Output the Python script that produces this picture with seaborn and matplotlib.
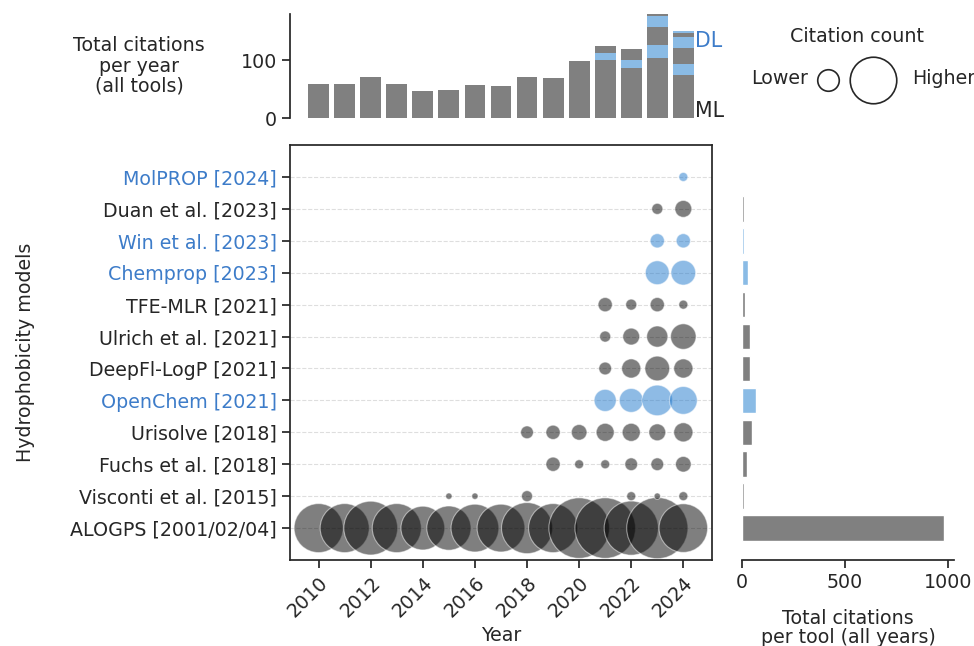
import numpy as np
import pandas as pd
import seaborn as sns
import matplotlib.pyplot as plt
from matplotlib.lines import Line2D

# --- Data ---
YEARS = list(range(2010, 2025))

TOOLS = ['ALOGPS [2001/02/04]', 'Visconti et al. [2015]', 'Fuchs et al. [2018]',
         'Urisolve [2018]', 'OpenChem [2021]', 'DeepFl-LogP [2021]',
         'Ulrich et al. [2021]', 'TFE-MLR [2021]', 'Chemprop [2023]',
         'Win et al. [2023]', 'Duan et al. [2023]', 'MolPROP [2024]']
TOOL_TYPE = ['ML', 'ML', 'ML', 'ML', 'DL', 'ML', 'ML', 'ML', 'DL', 'DL', 'ML', 'DL']

# citations per year, 2010 ... 2024
alogps   = [59, 59, 71, 59, 47, 48, 56, 56, 64, 59, 90, 90, 72, 92, 58]
visconti = [0, 0, 0, 0, 0, 1, 1, 0, 3, 0, 0, 0, 2, 1, 2]
fuchs    = [0, 0, 0, 0, 0, 0, 0, 0, 0, 5, 2, 2, 4, 4, 6]
urisolve = [0, 0, 0, 0, 0, 0, 0, 0, 4, 5, 6, 8, 8, 7, 9]
openchem = [0, 0, 0, 0, 0, 0, 0, 0, 0, 0, 0, 12, 14, 23, 19]
deepfl   = [0, 0, 0, 0, 0, 0, 0, 0, 0, 0, 0, 4, 9, 15, 9]
ulrich   = [0, 0, 0, 0, 0, 0, 0, 0, 0, 0, 0, 3, 7, 11, 16]
tfe_mlr  = [0, 0, 0, 0, 0, 0, 0, 0, 0, 0, 0, 5, 3, 5, 2]
chemprop = [0, 0, 0, 0, 0, 0, 0, 0, 0, 0, 0, 0, 0, 14, 15]
win      = [0, 0, 0, 0, 0, 0, 0, 0, 0, 0, 0, 0, 0, 5, 5]
duan     = [0, 0, 0, 0, 0, 0, 0, 0, 0, 0, 0, 0, 0, 3, 7]
molprop  = [0, 0, 0, 0, 0, 0, 0, 0, 0, 0, 0, 0, 0, 0, 2]

COUNTS = [alogps, visconti, fuchs, urisolve, openchem, deepfl,
          ulrich, tfe_mlr, chemprop, win, duan, molprop]

ML_COLOR = 'gray'
DL_BAR = '#8abbe5'
DL_DOT = '#1f78cc'
DL_TEXT = '#3d7cc9'
FS = 13.7

# long table for the bubble plot
rows = []
for i, (tool, kind, counts) in enumerate(zip(TOOLS, TOOL_TYPE, COUNTS)):
    for year, c in zip(YEARS, counts):
        if c > 0:
            rows.append({'tool': tool, 'pos': i, 'type': kind, 'Year': year, 'count': c})
df = pd.DataFrame(rows)

sns.set_theme(style='ticks')
plt.rcParams.update({'font.size': FS, 'axes.labelsize': FS,
                     'xtick.labelsize': FS, 'ytick.labelsize': FS})

fig = plt.figure(figsize=(9.74, 6.46), dpi=100)
ax = fig.add_axes([0.2977, 0.1331, 0.4333, 0.6424])
ax_top = fig.add_axes([0.2977, 0.8173, 0.4333, 0.161], sharex=ax)
ax_right = fig.add_axes([0.7618, 0.1331, 0.2177, 0.6424], sharey=ax)

# --- bubble plot ---
ax.yaxis.grid(True, ls='--', color='0.87', lw=0.8)
ax.set_axisbelow(True)
sns.scatterplot(data=df, x='Year', y='pos', size='count', hue='type',
                palette={'ML': 'black', 'DL': DL_DOT}, sizes=(0, 2110),
                size_norm=(0, 100), alpha=0.5, edgecolor='white', linewidth=0.8,
                legend=False, ax=ax, zorder=2)
ax.set_xlim(2008.9, 2025.1)
ax.set_ylim(-1, 12)
ax.set_xticks(list(range(2010, 2025, 2)))
ax.set_yticks(range(len(TOOLS)))
ax.set_yticklabels(TOOLS)
for lbl, kind in zip(ax.get_yticklabels(), TOOL_TYPE):
    lbl.set_color(DL_TEXT if kind == 'DL' else '.15')
plt.setp(ax.get_xticklabels(), rotation=45, ha='right', rotation_mode='anchor')
ax.set_xlabel('Year')
ax.set_ylabel('Hydrophobicity models')
ax.yaxis.set_label_coords(-0.605, 0.5)

# --- stacked citations per year ---
bottom = np.zeros(len(YEARS))
for kind, counts in zip(TOOL_TYPE, COUNTS):
    counts = np.array(counts)
    ax_top.bar(YEARS, counts, bottom=bottom, width=0.8,
               color=DL_BAR if kind == 'DL' else ML_COLOR, linewidth=0)
    bottom += counts
ax_top.set_ylim(0, bottom.max())
ax_top.set_yticks([0, 100])
ax_top.tick_params(bottom=False, labelbottom=False)
sns.despine(ax=ax_top, bottom=True)
ax_top.text(2024.45, 134, 'DL', color=DL_TEXT, fontsize=14.8, va='center', ha='left')
ax_top.text(2024.45, 12, 'ML', color='.15', fontsize=14.8, va='center', ha='left')
fig.text(139 / 974, 1 - 66 / 646, 'Total citations\nper year\n(all tools)',
         ha='center', va='center', fontsize=FS, color='.15', linespacing=1.08)

# --- totals per tool ---
totals = [sum(c) for c in COUNTS]
ax_right.barh(range(len(TOOLS)), totals, height=0.8,
              color=[DL_BAR if k == 'DL' else ML_COLOR for k in TOOL_TYPE])
ax_right.set_xlim(left=0)
ax_right.set_xticks([0, 500, 1000])
ax_right.tick_params(left=False, labelleft=False)
sns.despine(ax=ax_right, left=True)
ax_right.set_xlabel('Total citations\nper tool (all years)', labelpad=12, linespacing=1.0)

# --- size legend ---
fig.text(857 / 974, 1 - 37 / 646, 'Citation count', ha='center', va='center',
         fontsize=FS, color='.15')
fig.text(808 / 974, 1 - 79 / 646, 'Lower', ha='right', va='center',
         fontsize=FS, color='.15')
fig.text(912 / 974, 1 - 79 / 646, 'Higher', ha='left', va='center',
         fontsize=FS, color='.15')
for cx, ms in [(828, 15.5), (873, 33.5)]:
    fig.add_artist(Line2D([cx / 974], [1 - 80 / 646], marker='o', markersize=ms,
                          mfc='none', mec='.15', mew=1.2, transform=fig.transFigure))

fig.savefig('out.png', dpi=100)
